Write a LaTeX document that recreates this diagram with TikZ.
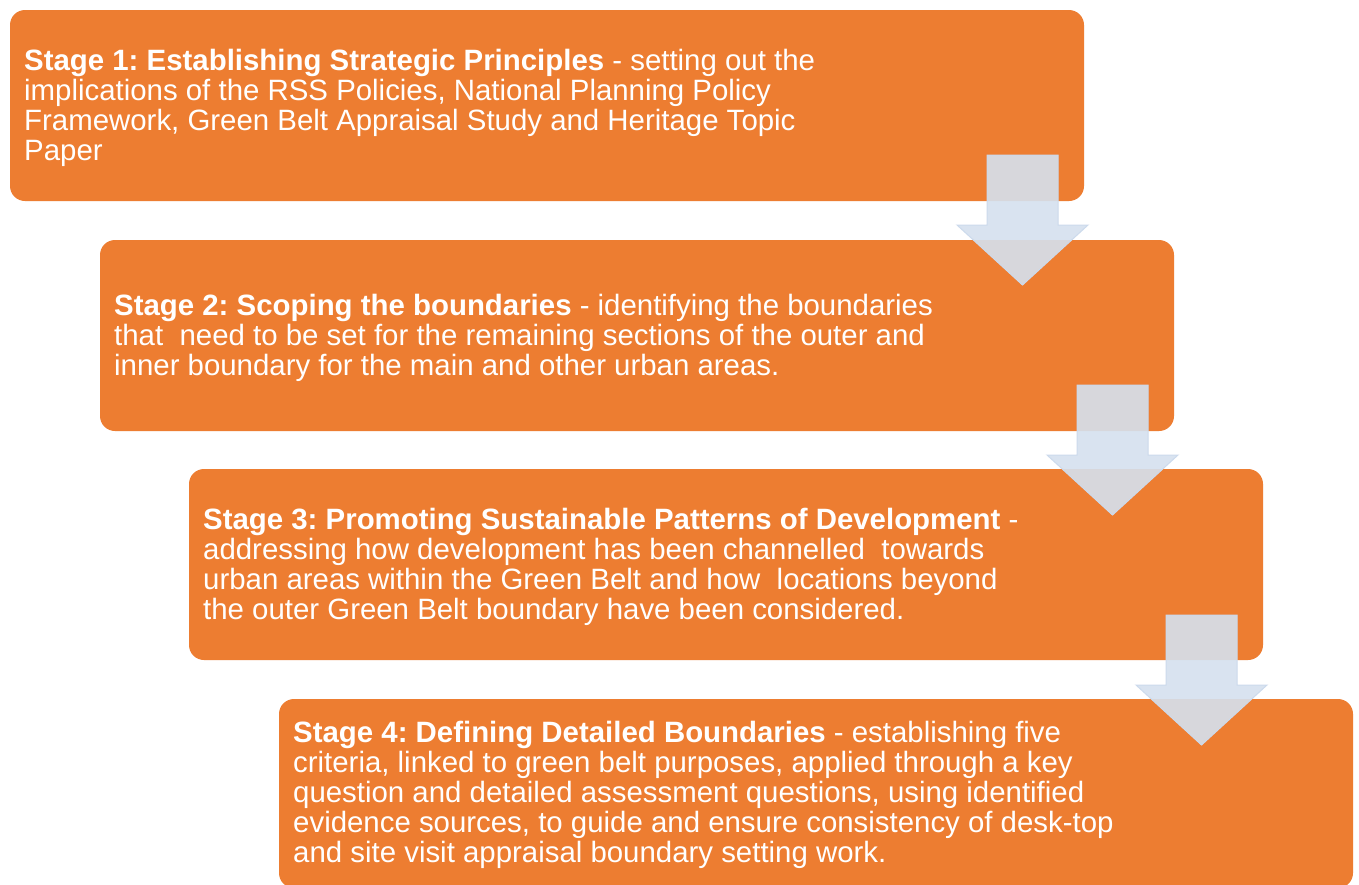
\documentclass[tikz,border=0pt]{standalone}
\usepackage{fontspec}
\setmainfont{Liberation Sans}
\frenchspacing
\definecolor{stageorange}{HTML}{ED7D31}
\definecolor{arrowblue}{HTML}{D5E1EF}
\definecolor{arrowedge}{HTML}{CCDAEC}
\tikzset{
  stagebox/.style={fill=stageorange, draw=none, rounded corners=15pt},
  stagetext/.style={anchor=west, inner sep=0pt, align=left, text=white,
    font=\fontsize{29.4}{30}\selectfont},
  blockarrow/.style={fill=arrowblue, fill opacity=0.9, draw=arrowedge, line width=1pt, line join=miter}
}
\newcommand{\downarrowshape}[2]{% #1 = x of shaft left, #2 = y of shaft top
  \draw[blockarrow] (#1,#2) -- ++(71,0) -- ++(0,70) -- ++(30,0) -- ++(-65.5,60) -- ++(-65.5,-60) -- ++(30,0) -- cycle;
}
\begin{document}
\begin{tikzpicture}[x=1pt,y=-1pt]
\useasboundingbox (0,0) rectangle (1359,884);
\clip (0,0) rectangle (1359,884);
\fill[white] (0,0) rectangle (1359,884);
% boxes
\path[stagebox] (10,10) rectangle (1084,201);
\path[stagebox] (100,240) rectangle (1174,431);
\path[stagebox] (189,469) rectangle (1263,660);
\path[stagebox] (279,699) rectangle (1353,888);
% texts
\node[stagetext] (s1) at (24,107.5) {\textbf{Stage 1: Establishing Strategic Principles} - setting out the\\implications of the RSS Policies, National Planning Policy\\Framework, Green Belt Appraisal Study and Heritage Topic\\Paper};
\node[stagetext] (s2) at (114,337.5) {\textbf{Stage 2: Scoping the boundaries} - identifying the boundaries\\that\ \ need to be set for the remaining sections of the outer and\\inner boundary for the main and other urban areas.};
\node[stagetext] (s3) at (203,566.5) {\textbf{Stage 3: Promoting Sustainable Patterns of Development} -\\addressing how development has been channelled\ \ towards\\urban areas within the Green Belt and how\ \ locations beyond\\the outer Green Belt boundary have been considered.};
\node[stagetext] (s4) at (293,795) {\textbf{Stage 4: Defining Detailed Boundaries} - establishing five\\criteria, linked to green belt purposes, applied through a key\\question and detailed assessment questions, using identified\\evidence sources, to guide and ensure consistency of desk-top\\and site visit appraisal boundary setting work.};
% arrows
\downarrowshape{987}{155}
\downarrowshape{1077}{385}
\downarrowshape{1166}{615}
\end{tikzpicture}
\end{document}
